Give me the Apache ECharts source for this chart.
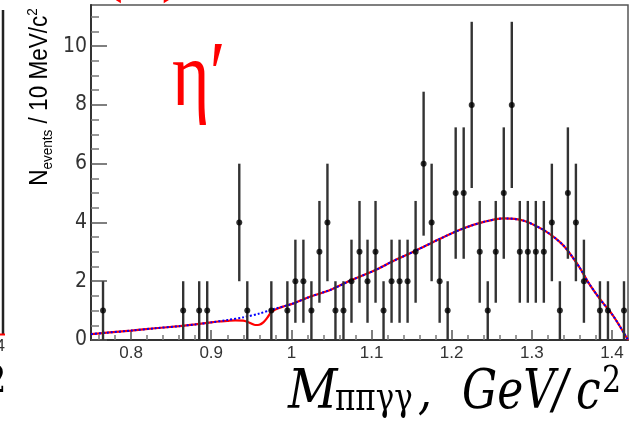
<!DOCTYPE html>
<html>
<head>
<meta charset="utf-8">
<script src="https://cdn.jsdelivr.net/npm/echarts@6/dist/echarts.min.js"></script>
<style>
html, body { margin: 0; padding: 0; background: #fff; }
#chart { width: 634px; height: 428px; }
</style>
</head>
<body>
<div id="chart"></div>
<script>
// bin centres (10 MeV bins) that have entries, and the counts in them
const binCenters = [0.765, 0.865, 0.885, 0.895, 0.935, 0.945, 0.975, 0.995,
    1.005, 1.015, 1.025, 1.035, 1.045, 1.055, 1.065, 1.075, 1.085, 1.095,
    1.105, 1.115, 1.125, 1.135, 1.145, 1.155, 1.165, 1.175, 1.185, 1.195,
    1.205, 1.215, 1.225, 1.235, 1.245, 1.255, 1.265, 1.275, 1.285, 1.295,
    1.305, 1.315, 1.325, 1.335, 1.345, 1.355, 1.365, 1.385, 1.395, 1.415]
const counts = [1, 1, 1, 1, 4, 1, 1, 1,
    2, 2, 1, 3, 4, 1, 1, 2, 3, 2,
    3, 1, 2, 2, 2, 3, 6, 4, 2, 1,
    5, 5, 8, 3, 1, 3, 5, 8, 3, 3,
    3, 3, 4, 1, 5, 4, 2, 1, 1, 1]

// background fit (blue dotted)
const bkgX = [0.75, 0.77, 0.80, 0.83, 0.86, 0.88, 0.90, 0.92, 0.94, 0.96, 0.98, 1.00,
    1.02, 1.05, 1.075, 1.105, 1.125, 1.155, 1.185, 1.215, 1.24, 1.265, 1.29, 1.315,
    1.33, 1.34, 1.35, 1.36, 1.37, 1.38, 1.39, 1.40, 1.41, 1.42]
const bkgY = [0.20, 0.25, 0.32, 0.40, 0.47, 0.53, 0.60, 0.68, 0.77, 0.90, 1.07, 1.22,
    1.44, 1.72, 2.04, 2.38, 2.66, 3.04, 3.44, 3.80, 4.02, 4.14, 4.06, 3.74,
    3.45, 3.20, 2.85, 2.45, 1.98, 1.58, 1.22, 0.88, 0.46, 0.0]

// total fit (red), with the eta' dip
const totX = [0.75, 0.77, 0.80, 0.83, 0.86, 0.88, 0.90, 0.91, 0.92, 0.93, 0.94, 0.945,
    0.95, 0.955, 0.96, 0.965, 0.97, 0.975, 0.98, 0.99, 1.00,
    1.02, 1.05, 1.075, 1.105, 1.125, 1.155, 1.185, 1.215, 1.24, 1.265, 1.29, 1.315,
    1.33, 1.34, 1.35, 1.36, 1.37, 1.38, 1.39, 1.40, 1.41, 1.42]
const totY = [0.20, 0.25, 0.32, 0.40, 0.47, 0.53, 0.60, 0.63, 0.65, 0.67, 0.66, 0.62,
    0.56, 0.51, 0.52, 0.60, 0.76, 0.95, 1.04, 1.14, 1.22,
    1.44, 1.72, 2.04, 2.38, 2.66, 3.04, 3.44, 3.80, 4.02, 4.14, 4.06, 3.74,
    3.45, 3.20, 2.85, 2.45, 1.98, 1.58, 1.22, 0.88, 0.46, 0.0]

// axis ticks
const xMajorTicks = [0.8, 0.9, 1, 1.1, 1.2, 1.3, 1.4]
const xMinorTicks = [0.76, 0.78, 0.82, 0.84, 0.86, 0.88, 0.92, 0.94, 0.96, 0.98,
    1.02, 1.04, 1.06, 1.08, 1.12, 1.14, 1.16, 1.18, 1.22, 1.24, 1.26, 1.28,
    1.32, 1.34, 1.36, 1.38, 1.42]
const yMajorTicks = [0, 2, 4, 6, 8, 10]
const yMinorTicks = [0.5, 1, 1.5, 2.5, 3, 3.5, 4.5, 5, 5.5, 6.5, 7, 7.5,
    8.5, 9, 9.5, 10.5, 11]

let myChart = echarts.init(document.getElementById("chart"))

let pts = binCenters.map((x, i) => [x, counts[i], Math.sqrt(counts[i])])

let option = {
    animation: false,
    grid: {
        left: 91, top: 5, right: 6, bottom: 88,
        show: true, borderColor: "#555", borderWidth: 1.5,
    },
    xAxis: [
        {
            type: "value", min: 0.75, max: 1.42, position: "bottom",
            axisLine: { onZero: false, lineStyle: { color: "#333", width: 2 } },
            axisTick: { inside: true, length: 10, customValues: xMajorTicks, lineStyle: { color: "#555", width: 1.5 } },
            axisLabel: { customValues: xMajorTicks, color: "#333", fontSize: 17, fontFamily: "Liberation Sans", margin: 5 },
            splitLine: { show: false },
        },
        {
            type: "value", min: 0.75, max: 1.42, position: "bottom",
            axisLine: { show: false },
            axisTick: { inside: true, length: 5, customValues: xMinorTicks, lineStyle: { color: "#777", width: 1.5 } },
            axisLabel: { show: false },
            splitLine: { show: false },
        },
    ],
    yAxis: [
        {
            type: "value", min: 0, max: 11.4, position: "left",
            axisLine: { show: true, onZero: false, lineStyle: { color: "#333", width: 2 } },
            axisTick: { show: true, inside: true, length: 16, customValues: yMajorTicks, lineStyle: { color: "#555", width: 1.5 } },
            axisLabel: { customValues: yMajorTicks, color: "#333", fontSize: 21, fontFamily: "'Liberation Sans Narrow', 'DejaVu Sans Condensed', 'Liberation Sans'", margin: 4 },
            splitLine: { show: false },
        },
        {
            type: "value", min: 0, max: 11.4, position: "left",
            axisLine: { show: false },
            axisTick: { show: true, inside: true, length: 8, customValues: yMinorTicks, lineStyle: { color: "#777", width: 1.5 } },
            axisLabel: { show: false },
            splitLine: { show: false },
        },
    ],
    series: [
        {
            type: "line", name: "total",
            data: totX.map((x, i) => [x, totY[i]]),
            showSymbol: false, smooth: 0.3, z: 3,
            lineStyle: { color: "#ff0000", width: 2.2 },
        },
        {
            type: "line", name: "background",
            data: bkgX.map((x, i) => [x, bkgY[i]]),
            showSymbol: false, smooth: 0.3, z: 4,
            lineStyle: { color: "#0000ff", width: 2, type: "dotted" },
        },
        {
            type: "custom", name: "errors", z: 5,
            data: pts,
            renderItem: (params, api) => {
                let x = api.value(0), y = api.value(1), e = api.value(2)
                let p1 = api.coord([x, y + e])
                let p2 = api.coord([x, Math.max(y - e, 0)])
                return {
                    type: "line",
                    shape: { x1: p1[0], y1: p1[1], x2: p2[0], y2: p2[1] },
                    style: { stroke: "#333", lineWidth: 2.4 },
                }
            },
        },
        {
            type: "scatter", name: "data", z: 6,
            data: pts.map(p => [p[0], p[1]]),
            symbolSize: 6,
            itemStyle: { color: "#000" },
        },
    ],
    graphic: [
        // bits of the neighbouring panel, cut by the picture edge
        { type: "line", shape: { x1: 3, y1: 10, x2: 3, y2: 334 }, style: { stroke: "#222", lineWidth: 2.5 } },
        { type: "line", shape: { x1: 0, y1: 334.5, x2: 5, y2: 334.5 }, style: { stroke: "#f00", lineWidth: 2 } },
        { type: "text", x: 5, y: 346, style: { text: "1.4", fill: "#333", fontSize: 17, fontFamily: "Liberation Sans", align: "right", verticalAlign: "middle" } },
        { type: "text", x: 6, y: 382, scaleY: 1.25, style: { text: "2", fill: "#000", fontSize: 30, fontFamily: "DejaVu Serif", align: "right", verticalAlign: "middle" } },
        { type: "text", x: 98, y: -33, style: { text: "(b)", fill: "#f00", fontSize: 76, fontFamily: "Liberation Serif", align: "left", verticalAlign: "middle" } },
        // y title
        {
            type: "text", x: 40, y: 97, rotation: Math.PI / 2, scaleX: 0.9,
            style: {
                text: "{n|N}{s|events}{n| / 10 MeV/c}{p|2}",
                align: "center", verticalAlign: "middle",
                rich: {
                    n: { fontSize: 25, fontFamily: "Liberation Sans", fill: "#000", lineHeight: 30 },
                    s: { fontSize: 15, fontFamily: "Liberation Sans", fill: "#000", lineHeight: 15, verticalAlign: "bottom" },
                    p: { fontSize: 15, fontFamily: "Liberation Sans", fill: "#000", lineHeight: 15, verticalAlign: "top" },
                },
            },
        },
        // eta' label
        { type: "text", x: 172, y: 80, scaleY: 1.3, style: { text: "η′", fill: "#f00", fontSize: 72, fontFamily: "Liberation Serif", align: "left", verticalAlign: "middle" } },
        // x title
        { type: "text", x: 288, y: 394, scaleY: 1.25, scaleX: 1.1, style: { text: "M", fill: "#000", fontSize: 44, fontStyle: "italic", fontFamily: "DejaVu Serif", align: "left", verticalAlign: "middle" } },
        { type: "text", x: 335, y: 400, scaleY: 1.25, style: { text: "ππγγ", fill: "#000", fontSize: 31, fontFamily: "DejaVu Serif", align: "left", verticalAlign: "middle" } },
        { type: "text", x: 418, y: 394, scaleY: 1.25, style: { text: ",", fill: "#000", fontSize: 44, fontStyle: "italic", fontFamily: "DejaVu Serif", align: "left", verticalAlign: "middle" } },
        { type: "text", x: 462, y: 394, scaleY: 1.25, style: { text: "GeV", fill: "#000", fontSize: 44, fontStyle: "italic", fontFamily: "DejaVu Serif", align: "left", verticalAlign: "middle" } },
        { type: "text", x: 553, y: 394, scaleY: 1.25, style: { text: "/", fill: "#000", fontSize: 44, fontStyle: "italic", fontFamily: "DejaVu Serif", align: "left", verticalAlign: "middle" } },
        { type: "text", x: 576, y: 394, scaleY: 1.25, style: { text: "c", fill: "#000", fontSize: 44, fontStyle: "italic", fontFamily: "DejaVu Serif", align: "left", verticalAlign: "middle" } },
        { type: "text", x: 602, y: 382, scaleY: 1.25, style: { text: "2", fill: "#000", fontSize: 30, fontFamily: "DejaVu Serif", align: "left", verticalAlign: "middle" } },
    ],
}

myChart.setOption(option)
</script>
</body>
</html>
